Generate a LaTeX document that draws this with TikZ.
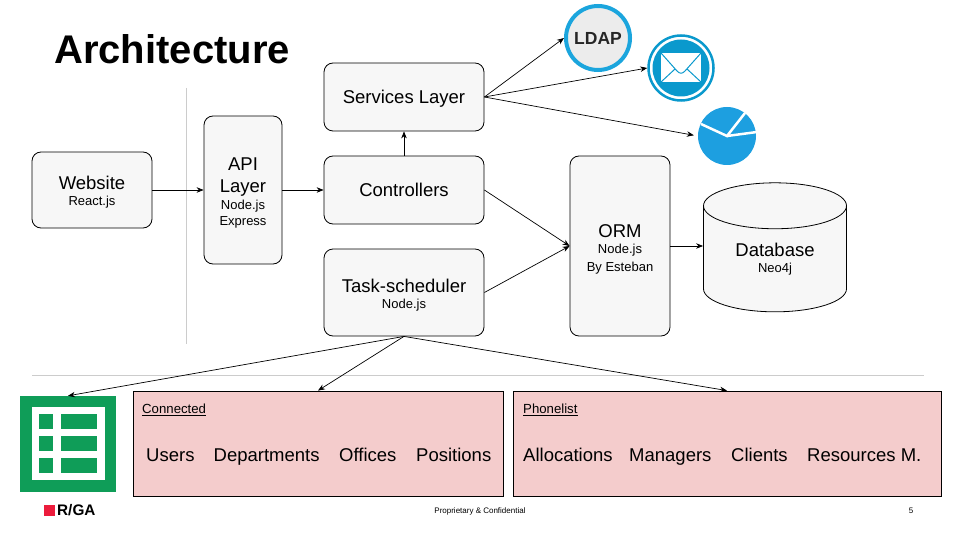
\documentclass[tikz,border=0pt]{standalone}
\usepackage{fontspec}
\setmainfont{Liberation Sans}
\usetikzlibrary{arrows.meta,shapes.geometric}
\definecolor{boxgray}{HTML}{F7F7F7}
\definecolor{boxpink}{HTML}{F4CCCC}
\definecolor{sheetgreen}{HTML}{0F9D58}
\definecolor{ldapblue}{HTML}{1BA5DD}
\definecolor{mailblue}{HTML}{0A99CD}
\definecolor{pieblue}{HTML}{1D9FE0}
\definecolor{rulegray}{HTML}{CCCCCC}
\definecolor{logored}{HTML}{EC1C3C}
\newcommand{\subtext}[1]{{\fontsize{13}{16}\selectfont #1}}
\newcommand{\toppad}[1]{\rule{0pt}{#1pt}}
\newcommand{\lowered}[1]{\raisebox{-5pt}[8pt][4pt]{#1}}
\tikzset{
  layerbox/.style={draw, rounded corners=9pt, fill=boxgray, align=center, inner sep=0pt, line width=0.8pt, font=\fontsize{18.5}{22}\selectfont},
  groupbox/.style={draw, fill=boxpink, line width=0.8pt, inner sep=0pt},
  grouptitle/.style={font=\fontsize{13.2}{15}\selectfont, inner sep=0pt},
  groupitem/.style={anchor=base west, font=\fontsize{18.5}{22}\selectfont, inner sep=0pt},
  sheetcell/.style={fill=sheetgreen, draw=none, inner sep=0pt, minimum height=15pt},
  link/.style={->, >={Stealth[length=7pt,width=5.5pt]}, line width=0.7pt},
  divider/.style={rulegray, line width=0.7pt}
}
\begin{document}
\begin{tikzpicture}[x=1pt,y=-1pt]
\useasboundingbox (0,0) rectangle (960,540);
\node[anchor=base west, inner sep=0pt, font=\fontsize{40}{46}\selectfont\bfseries] (title) at (54,64) {Architecture};
% dividers
\coordinate (vtop) at (186,88);
\coordinate (vbot) at (186,344);
\coordinate (hleft) at (32,375);
\coordinate (hright) at (924,375);
\draw[divider] (vtop) -- (vbot);
\draw[divider] (hleft) -- (hright);
% layers
\node[layerbox, minimum width=120pt, minimum height=76pt] (website) at (92,190) {\toppad{18.5}Website\\[-6pt]\subtext{React.js}};
\node[layerbox, minimum width=78pt, minimum height=148pt] (api) at (243,190) {\toppad{19.5}API\\Layer\\[-5pt]\subtext{Node.js}\\[-6pt]\subtext{Express}};
\node[layerbox, minimum width=160pt, minimum height=68pt] (services) at (404,97) {\lowered{Services Layer}};
\node[layerbox, minimum width=160pt, minimum height=68pt] (controllers) at (404,190) {\lowered{Controllers}};
\node[layerbox, minimum width=160pt, minimum height=87pt] (scheduler) at (404,292.5) {\toppad{19.5}Task-scheduler\\[-6pt]\subtext{Node.js}};
\node[layerbox, minimum width=100pt, minimum height=180pt] (orm) at (620,246) {\toppad{19.5}ORM\\[-6pt]\subtext{Node.js}\\[-4pt]\subtext{By Esteban}};
\node[draw, cylinder, shape border rotate=90, aspect=0.58, cylinder uses custom fill, cylinder body fill=boxgray, cylinder end fill=boxgray, minimum width=143pt, minimum height=129pt, inner sep=0pt, align=center, line width=0.8pt, font=\fontsize{18.5}{22}\selectfont] (database) at (775,259) {Database\\[-6pt]\subtext{Neo4j}};
% ldap icon
\node[circle, draw=ldapblue, fill=gray!15, line width=4pt, minimum size=64pt, inner sep=0pt, text=black!85, font=\fontsize{17.5}{20}\selectfont\bfseries] (ldap) at (598,38) {LDAP};
% mail icon
\node[circle, draw=mailblue, fill=white, line width=2.5pt, minimum size=65pt, inner sep=0pt] (mail) at (681,68) {};
\fill[mailblue] (mail.center) circle (28.5);
\fill[white] (661,53) rectangle (701,82);
\draw[mailblue, line width=1pt, line join=round] (661,53) -- (677,71) .. controls (680,74) and (682,74) .. (685,71) -- (701,53);
\draw[mailblue, line width=1pt] (661,82) -- (675,69);
\draw[mailblue, line width=1pt] (701,82) -- (687,69);
% pie icon
\node[circle, fill=pieblue, minimum size=58pt, inner sep=0pt] (pie) at (727,136) {};
\draw[white, line width=2.5pt] (701,124) -- (pie.center) -- (745,113);
\draw[white, line width=2.5pt] (pie.center) -- (757,132);
% sheets icon
\node[fill=sheetgreen, minimum size=96pt, inner sep=0pt] (sheets) at (68,444) {};
\fill[white] (31.5,407) rectangle (105,480);
\foreach \rowy in {421.5,443.5,465.5} {
  \node[sheetcell, minimum width=14pt] at (46,\rowy) {};
  \node[sheetcell, minimum width=36pt] at (79,\rowy) {};
}
% groups
\node[groupbox, minimum width=370pt, minimum height=105pt] (connected) at (318,443.5) {};
\node[groupbox, minimum width=428pt, minimum height=105pt] (phonelist) at (727,443.5) {};
\node[grouptitle, anchor=west] (connectedtitle) at (142,410) {\underline{Connected}};
\node[grouptitle, anchor=west] (phonelisttitle) at (523,410) {\underline{Phonelist}};
\node[groupitem] (users) at (146,461) {Users};
\node[groupitem] (departments) at (213.5,461) {Departments};
\node[groupitem] (offices) at (339,461) {Offices};
\node[groupitem] (positions) at (416,461) {Positions};
\node[groupitem] (allocations) at (523,461) {Allocations};
\node[groupitem] (managers) at (629,461) {Managers};
\node[groupitem] (clients) at (731,461) {Clients};
\node[groupitem] (resources) at (807,461) {Resources M.};
% connectors
\draw[link] (website) -- (api);
\draw[link] (api) -- (controllers);
\draw[link] (controllers) -- (services);
\draw[link] (controllers.east) -- (orm.west);
\draw[link] (scheduler.east) -- (orm.west);
\draw[link] (orm.east) -- (orm.east -| database.west);
\draw[link] (services.east) -- (ldap.west);
\draw[link] (services.east) -- (mail.west);
\draw[link, shorten >=4pt] (services.east) -- (pie.west);
\draw[link] (scheduler.south) -- (sheets.north);
\draw[link] (scheduler.south) -- (connected.north);
\draw[link] (scheduler.south) -- (phonelist.north);
% footer
\node[fill=logored, minimum size=11pt, inner sep=0pt] (logomark) at (49.5,510) {};
\node[anchor=west, inner sep=0pt, font=\fontsize{15.3}{17}\selectfont\bfseries] (logotext) at (57,510) {R/GA};
\node[inner sep=0pt, font=\fontsize{8}{10}\selectfont] (footer) at (480,511) {Proprietary \& Confidential};
\node[inner sep=0pt, font=\fontsize{8}{10}\selectfont] (pageno) at (911,511) {5};
\end{tikzpicture}
\end{document}
